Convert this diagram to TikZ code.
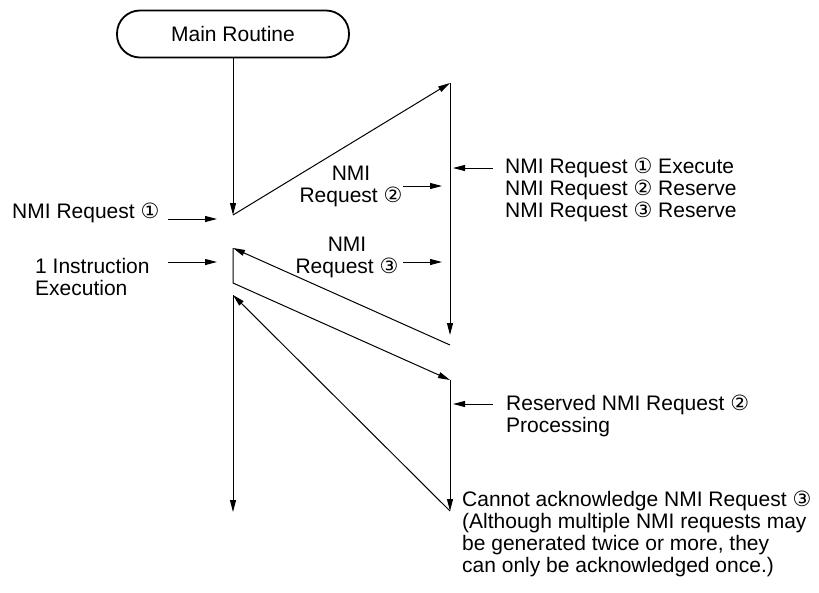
\documentclass[tikz,border=0pt]{standalone}
\usepackage{fontspec}
\setmainfont{Liberation Sans}
\newfontfamily\circfont{DejaVu Sans}
\usetikzlibrary{arrows.meta, positioning}
\newcommand{\cnum}[1]{{\circfont\fontsize{21}{22}\selectfont #1}}
\tikzset{
  every picture/.style={font=\fontsize{21}{22}\selectfont, >={Triangle[length=12pt,width=6pt]}},
  routine/.style={draw, line width=1.8pt, rounded corners=23pt, minimum width=232pt,
                  minimum height=47pt, inner sep=0pt},
  lbl/.style={inner sep=0pt, align=left},
  lblc/.style={inner sep=0pt, align=center},
  flow/.style={->, line width=1pt},
  hint/.style={->, line width=1pt},
}

\begin{document}
\begin{tikzpicture}[x=1pt, y=-1pt]
  \useasboundingbox (0,0) rectangle (819,592);
  \node[routine] (main) at (233,34) {Main Routine};
  % time line corners
  \foreach \n/\x/\y in {a1/233/215, a2/233/248, a3/233/283, a4/233/295, a5/233/512,
                        b1/450/83, b2/450/335, b3/450/345, b4/450/380, b5/450/511}
    \coordinate (\n) at (\x,\y);
  \draw[flow] (main) -- (a1);
  \draw[flow] (a1) -- (b1);
  \draw[flow] (b1) -- (b2);
  \draw[flow] (b3) -- (a2);
  \draw[flow] (a2) -- (a3) -- (b4);
  \draw[flow] (b4) -- (b5);
  \draw[flow] (b5) -- (a4);
  \draw[flow] (a4) -- (a5);
  % labels
  \node[lbl, anchor=west] (req1) at (12,213) {NMI Request \cnum{①}};
  \node[lbl, anchor=west] (instr) at (35,277) {1 Instruction\\Execution};
  \node[lblc] (req2) at (351,186) {NMI\\Request \cnum{②}};
  \node[lblc] (req3) at (347,257) {NMI\\Request \cnum{③}};
  \node[lbl, anchor=west] (state) at (505,189.5) {NMI Request \cnum{①} Execute\\NMI Request \cnum{②} Reserve\\NMI Request \cnum{③} Reserve};
  \node[lbl, anchor=west] (resv) at (506,416) {Reserved NMI Request \cnum{②}\\Processing};
  \node[lbl, anchor=west] (nack) at (462,533.5) {Cannot acknowledge NMI Request \cnum{③}\\(Although multiple NMI requests may\\be generated twice or more, they\\can only be acknowledged once.)};
  % short request arrows
  \foreach \n/\x/\y/\X in {1/168/219/217, 2/168/262/217, 3/403/186/442,
                           4/403/262/442, 5/493/168/453, 6/493/404/453} {
    \coordinate (t\n) at (\x,\y);
    \coordinate (h\n) at (\X,\y);
    \draw[hint] (t\n) -- (h\n);
  }
\end{tikzpicture}
\end{document}
